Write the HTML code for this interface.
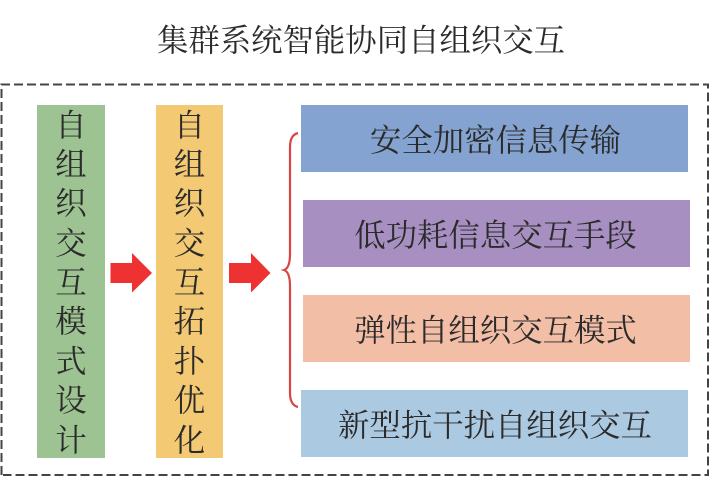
<!DOCTYPE html>
<html lang="zh"><head><meta charset="utf-8">
<style>
html,body{margin:0;padding:0;background:#fff}
#p{position:relative;width:711px;height:478px;overflow:hidden;background:#fff;font-family:"Liberation Serif","Noto Serif CJK SC",serif;color:#2b2b2b}
.b{position:absolute;display:flex;align-items:center;justify-content:center;font-size:31.4px;line-height:1;white-space:nowrap}
.t{position:relative;top:2px}
.v{position:absolute;width:68px;top:105px;height:353px;font-size:31.4px;text-align:center}
.v span{display:block;height:39.4px;line-height:39.4px;position:relative;top:0.5px;left:0}
svg{position:absolute;left:0;top:0}
</style></head><body><div id="p">
<svg width="711" height="478">
<path d="M1.5 475V84.500H708V475H3" fill="none" stroke="#444" stroke-width="2" stroke-dasharray="9 4"/>
<path d="M110.500 263H132V253L152 273 132 292.500V283H110.500Z" fill="#ee3232"/>
<path d="M229 263H251V253L270.500 273 251 292.500V283H229Z" fill="#ee3232"/>
<path d="M298 133Q290 135 290 147V254Q290 268 284 270Q290 272 290 286V393Q290 405 298 407" fill="none" stroke="#d94545" stroke-width="2.200"/>
</svg>
<div class="b" style="left:0;top:19px;width:722px;height:40px"><span style="position:relative;top:2px">集群系统智能协同自组织交互</span></div>
<div class="v" style="left:37px;background:#9dc392"><span>自</span><span>组</span><span>织</span><span>交</span><span>互</span><span>模</span><span>式</span><span>设</span><span>计</span></div>
<div class="v" style="left:156px;width:67px;background:#f3c973"><span>自</span><span>组</span><span>织</span><span>交</span><span>互</span><span>拓</span><span>扑</span><span>优</span><span>化</span></div>
<div class="b" style="left:301px;top:105px;width:387px;height:67px;background:#84a3d0"><span class="t" style="left:1px">安全加密信息传输</span></div>
<div class="b" style="left:303px;top:200px;width:387px;height:67px;background:#a78fc1"><span class="t" style="left:-1px">低功耗信息交互手段</span></div>
<div class="b" style="left:303px;top:295px;width:387px;height:67px;background:#f2bea6"><span class="t" style="left:-1px">弹性自组织交互模式</span></div>
<div class="b" style="left:301px;top:390px;width:387px;height:67px;background:#abcae2"><span class="t" style="left:0.500px">新型抗干扰自组织交互</span></div>
</div></body></html>
